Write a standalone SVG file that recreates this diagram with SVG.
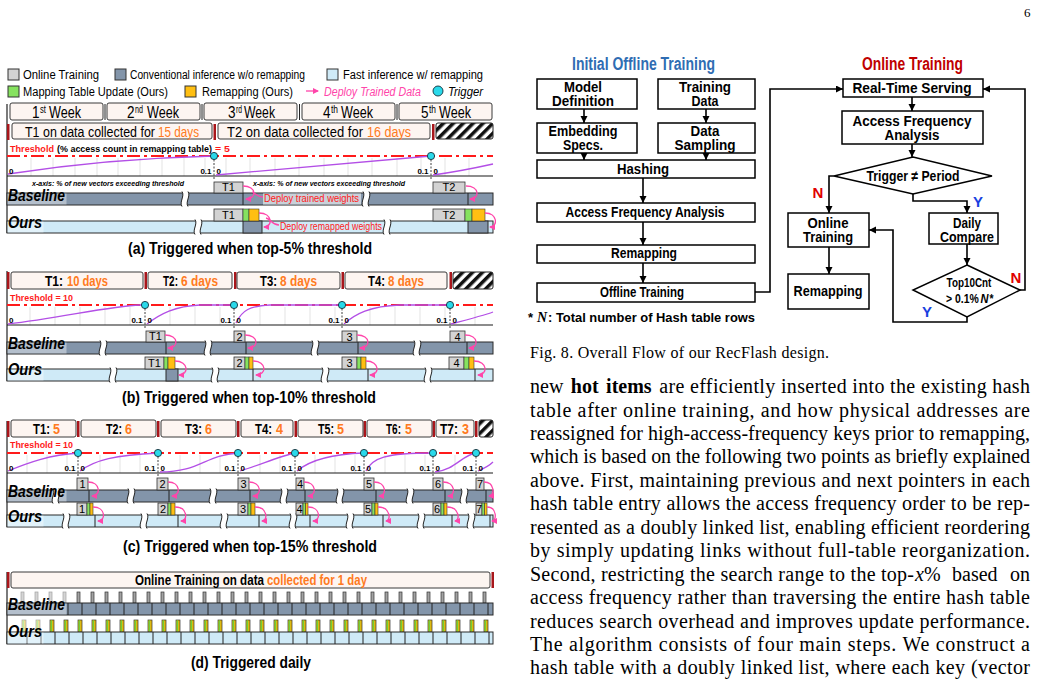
<svg xmlns="http://www.w3.org/2000/svg" width="1039" height="687" viewBox="0 0 1039 687">
<style>
.s{font-family:"Liberation Sans",Arial,sans-serif}
.b{font-weight:bold}
.i{font-style:italic}
.tm{font-family:"Liberation Serif","Times New Roman",serif}
.or{fill:#ff7a21}
.rd{fill:#ff1a1a}
.bx{fill:#fdf5f1;stroke:#3a3a3a;stroke-width:1}
.rb{fill:#a8161b}
.thl{stroke:#ff1a1a;stroke-width:2;stroke-dasharray:13 4 3 4;fill:none}
.gd{stroke:#dcdcdc;stroke-width:0.8;fill:none}
.ax{stroke:#1a1a1a;stroke-width:1.2}
.cv{stroke:#b34fe6;stroke-width:1.3;fill:none}
.dt{fill:#2ad9ea;stroke:#13303a;stroke-width:0.9}
.vd{stroke:#111;stroke-width:0.8;stroke-dasharray:2 1.5;fill:none}
.cb{fill:#8395aa;stroke:#2a2a2a;stroke-width:1}
.fb{fill:#cfeaf7;stroke:#2a2a2a;stroke-width:1}
.ot{fill:#d3d3d3;stroke:#333;stroke-width:0.8}
.gr{fill:#86e25f;stroke:#333;stroke-width:0.6}
.og{fill:#ffbf12;stroke:#333;stroke-width:0.6}
.pk{stroke:#ff45aa;stroke-width:1.3;fill:none;marker-end:url(#pa)}
.pl{stroke:#ff45aa;stroke-width:1.3;fill:none}
.fr{stroke:#222;stroke-width:1.2;fill:none}
.dv{stroke:#222;stroke-width:1;fill:none}
.lb{fill:#fff;opacity:0.4}
.nb{fill:#fff;stroke:#000;stroke-width:1.5}
.fa{stroke:#000;stroke-width:1.6;fill:none;marker-end:url(#ba)}
.ft{font-family:"Liberation Sans",Arial,sans-serif;font-size:15px;font-weight:bold;text-anchor:middle}
.tr{font-family:"Liberation Sans",Arial,sans-serif;font-size:15px}
.lg{font-family:"Liberation Sans",Arial,sans-serif;font-size:13.5px}
.wk{font-family:"Liberation Sans",Arial,sans-serif;font-size:16px}
.sp{font-family:"Liberation Sans",Arial,sans-serif;font-size:10px}
.tt{font-family:"Liberation Sans",Arial,sans-serif;font-size:9.5px;font-weight:bold}
.al{font-family:"Liberation Sans",Arial,sans-serif;font-size:8px;font-weight:bold}
.rl{font-family:"Liberation Sans",Arial,sans-serif;font-size:16px;font-weight:bold;font-style:italic}
.cap{font-family:"Liberation Sans",Arial,sans-serif;font-size:16px;font-weight:bold;text-anchor:middle}
.bn{font-family:"Liberation Sans",Arial,sans-serif;font-size:11px;text-anchor:middle}
.bt{font-family:"Liberation Serif","Times New Roman",serif;font-size:20px}
</style>
<defs>
<marker id="ba" markerWidth="8" markerHeight="8" refX="7" refY="3.5" orient="auto" markerUnits="userSpaceOnUse"><path d="M0,0 L7,3.5 L0,7 Z" fill="#000"/></marker>
<marker id="pa" markerWidth="6" markerHeight="6" refX="5" refY="3" orient="auto" markerUnits="userSpaceOnUse"><path d="M0,0 L6,3 L0,6 Z" fill="#ff45aa"/></marker>
<pattern id="ht" width="7" height="7" patternUnits="userSpaceOnUse" patternTransform="rotate(45)"><rect width="3.5" height="7" fill="#111"/></pattern>
<g id="bk"><path d="M0,-1.5 C3,3 -3,9 0,13.5 L6,13.5 C3,9 9,3 6,-1.5 Z" fill="#fff"/><path d="M0,-1.5 C3,3 -3,9 0,13.5 M6,-1.5 C9,3 3,9 6,13.5" fill="none" stroke="#222" stroke-width="1"/></g>
<g id="tb"><rect width="3" height="11" fill="#a3a3a3" stroke="#333" stroke-width="0.7"/></g>
<g id="to"><rect width="4" height="12" fill="#e9b90c" stroke="#333" stroke-width="0.7"/><rect x="0.6" y="0.4" width="1.5" height="11.2" fill="#6fcf3a"/></g>
</defs>
<rect width="1039" height="687" fill="#fff"/>
<text class="tm" x="1024" y="17" font-size="13">6</text>

<!-- Legend -->
<g id="legend">
<rect x="8" y="69" width="11" height="11" fill="#d3d3d3" stroke="#333"/>
<text class="lg" transform="translate(23,79) scale(.8,1)" textLength="95" lengthAdjust="spacingAndGlyphs">Online Training</text>
<rect x="115" y="69" width="11" height="11" fill="#8395aa" stroke="#333"/>
<text class="lg" transform="translate(130,79) scale(.8,1)" textLength="218.75" lengthAdjust="spacingAndGlyphs">Conventional inference w/o remapping</text>
<rect x="327" y="69" width="11" height="11" fill="#cfeaf7" stroke="#333"/>
<text class="lg" transform="translate(343,79) scale(.8,1)" textLength="175" lengthAdjust="spacingAndGlyphs">Fast inference w/ remapping</text>
<rect x="8" y="86" width="11" height="11" fill="#86e25f" stroke="#333"/>
<text class="lg" transform="translate(23,96) scale(.8,1)" textLength="181.25" lengthAdjust="spacingAndGlyphs">Mapping Table Update (Ours)</text>
<rect x="185" y="86" width="11" height="11" fill="#ffbf12" stroke="#333"/>
<text class="lg" transform="translate(202,96) scale(.8,1)" textLength="113.75" lengthAdjust="spacingAndGlyphs">Remapping (Ours)</text>
<line x1="306" y1="91" x2="318" y2="91" class="pk"/>
<text class="lg i" transform="translate(324,96) scale(.8,1)" fill="#ff45aa" textLength="121.25" lengthAdjust="spacingAndGlyphs">Deploy Trained Data</text>
<circle cx="438" cy="91" r="5" class="dt"/>
<text class="lg i" transform="translate(448,96) scale(.8,1)" textLength="43.75" lengthAdjust="spacingAndGlyphs">Trigger</text>
</g>

<!-- Panel (a) -->
<g id="panel-a">
<line x1="7" y1="104" x2="7" y2="233" class="fr"/>
<rect class="bx" x="10" y="103" width="93" height="17" rx="2"/>
<rect class="bx" x="107" y="103" width="93" height="17" rx="2"/>
<rect class="bx" x="204" y="103" width="93" height="17" rx="2"/>
<rect class="bx" x="302" y="103" width="93" height="17" rx="2"/>
<rect class="bx" x="399" y="103" width="93" height="17" rx="2"/>
<path class="dv" d="M105,104V120M202,104V120M299.5,104V120M397,104V120"/>
<text class="wk" transform="translate(32,118) scale(.8,1)" textLength="9.4" lengthAdjust="spacingAndGlyphs">1</text><text class="sp" transform="translate(40,113) scale(.8,1)" textLength="7.5" lengthAdjust="spacingAndGlyphs">st</text><text class="wk" transform="translate(49,118) scale(.8,1)" textLength="40" lengthAdjust="spacingAndGlyphs">Week</text>
<text class="wk" transform="translate(127,118) scale(.8,1)" textLength="9.4" lengthAdjust="spacingAndGlyphs">2</text><text class="sp" transform="translate(135,113) scale(.8,1)" textLength="10" lengthAdjust="spacingAndGlyphs">nd</text><text class="wk" transform="translate(147,118) scale(.8,1)" textLength="40" lengthAdjust="spacingAndGlyphs">Week</text>
<text class="wk" transform="translate(228,118) scale(.8,1)" textLength="9.4" lengthAdjust="spacingAndGlyphs">3</text><text class="sp" transform="translate(236,113) scale(.8,1)" textLength="7.5" lengthAdjust="spacingAndGlyphs">rd</text><text class="wk" transform="translate(244,118) scale(.8,1)" textLength="38.75" lengthAdjust="spacingAndGlyphs">Week</text>
<text class="wk" transform="translate(323,118) scale(.8,1)" textLength="9.4" lengthAdjust="spacingAndGlyphs">4</text><text class="sp" transform="translate(331,113) scale(.8,1)" textLength="8.75" lengthAdjust="spacingAndGlyphs">th</text><text class="wk" transform="translate(341,118) scale(.8,1)" textLength="40" lengthAdjust="spacingAndGlyphs">Week</text>
<text class="wk" transform="translate(421,118) scale(.8,1)" textLength="9.4" lengthAdjust="spacingAndGlyphs">5</text><text class="sp" transform="translate(429,113) scale(.8,1)" textLength="8.75" lengthAdjust="spacingAndGlyphs">th</text><text class="wk" transform="translate(439,118) scale(.8,1)" textLength="40" lengthAdjust="spacingAndGlyphs">Week</text>

<rect class="rb" x="7" y="124" width="2.5" height="16"/>
<rect class="bx" x="12" y="123" width="200" height="16" rx="2"/>
<rect class="rb" x="213.5" y="124" width="2.5" height="16"/>
<rect class="bx" x="218" y="123" width="212" height="16" rx="2"/>
<rect class="rb" x="432" y="124" width="2.5" height="16"/>
<rect x="436" y="123" width="57" height="16" rx="2" fill="url(#ht)" stroke="#222"/>
<text class="tr" transform="translate(25,137) scale(.8,1)" textLength="162.5" lengthAdjust="spacingAndGlyphs">T1 on data collected for</text>
<text class="tr or" transform="translate(158,137) scale(.8,1)" textLength="51.25" lengthAdjust="spacingAndGlyphs">15 days</text>
<text class="tr" transform="translate(227,137) scale(.8,1)" textLength="170" lengthAdjust="spacingAndGlyphs">T2 on data collected for</text>
<text class="tr or" transform="translate(367,137) scale(.8,1)" textLength="55" lengthAdjust="spacingAndGlyphs">16 days</text>

<text class="tt rd" transform="translate(10,152) scale(.8,1)" textLength="55" lengthAdjust="spacingAndGlyphs">Threshold</text>
<text class="tt" transform="translate(57,152) scale(.8,1)" textLength="193.75" lengthAdjust="spacingAndGlyphs">(% access count in remapping table)</text>
<text class="tt rd" transform="translate(215,152) scale(.8,1)" textLength="18.75" lengthAdjust="spacingAndGlyphs">= 5</text>

<path class="gd" d="M31,158V176M53,158V176M75,158V176M97,158V176M118,158V176M140,158V176M162,158V176M184,158V176M205,158V176M226,158V176M250,158V176M275,158V176M299,158V176M324,158V176M348,158V176M372,158V176M397,158V176M421,158V176M445,158V176M469,158V176"/>
<line class="thl" x1="7" y1="156" x2="493" y2="156"/>
<line class="ax" x1="7" y1="176" x2="493" y2="176"/>
<path class="cv" d="M8,174 C60,166 130,158 214,156"/>
<path class="cv" d="M216,175 C300,167 380,160 431,156"/>
<path class="cv" d="M433,175 C455,172 475,168 493,164"/>
<path class="vd" d="M214,156V179M431,156V179"/>
<circle cx="214" cy="156" r="3.6" class="dt"/>
<circle cx="431" cy="156" r="3.6" class="dt"/>
<text class="al" x="9" y="174">0</text>
<text class="al" x="211.5" y="174" text-anchor="end">0.1</text>
<text class="al" x="216.5" y="174">0</text>
<text class="al" x="428.5" y="174" text-anchor="end">0.1</text>
<text class="al" x="433.5" y="174">0</text>
<text class="s b i" x="32" y="186" font-size="7.5" textLength="152" lengthAdjust="spacingAndGlyphs">x-axis: % of new vectors  exceeding threshold</text>
<text class="s b i" x="253" y="186" font-size="7.5" textLength="152" lengthAdjust="spacingAndGlyphs">x-axis: % of new vectors  exceeding threshold</text>

<rect class="cb" x="7" y="193" width="486" height="12"/>
<rect class="lb" x="7.5" y="193.5" width="59" height="11"/>
<rect x="263" y="193.5" width="98" height="11" fill="#c9d1d9"/>
<path class="dv" d="M243,193V205M468,193V205"/>
<use href="#bk" x="182" y="193"/>
<use href="#bk" x="363" y="193"/>
<rect class="ot" x="214" y="182" width="29" height="11"/>
<text class="bn" x="228.5" y="191">T1</text>
<rect class="ot" x="433" y="182" width="32" height="11"/>
<text class="bn" x="449" y="191">T2</text>
<text class="rl" x="8" y="201" textLength="57" lengthAdjust="spacingAndGlyphs">Baseline</text>
<text class="s rd" x="264" y="202" font-size="10.5" textLength="95" lengthAdjust="spacingAndGlyphs">Deploy trained weights</text>
<path class="pk" d="M243,186 C257,186 257,199 246,199"/>
<path class="pl" d="M263,197 C257,197 255,193 252,192"/>
<path class="pk" d="M466,186 C480,186 480,199 470,199"/>

<rect class="fb" x="7" y="221" width="486" height="12"/>
<rect class="cb" x="243" y="221" width="19" height="12"/>
<rect class="cb" x="468" y="221" width="20" height="12"/>
<rect class="lb" x="7.5" y="221.5" width="36" height="11"/>
<use href="#bk" x="195" y="221"/>
<use href="#bk" x="384" y="221"/>
<rect class="ot" x="214" y="209" width="29" height="12"/>
<rect class="gr" x="243" y="209" width="6" height="12"/>
<rect class="og" x="249" y="209" width="10" height="12"/>
<text class="bn" x="228.5" y="219">T1</text>
<rect class="ot" x="433" y="209" width="32" height="12"/>
<rect class="gr" x="465" y="209" width="7" height="12"/>
<rect class="og" x="472" y="209" width="13" height="12"/>
<text class="bn" x="449" y="219">T2</text>
<text class="rl" x="8" y="228" textLength="34" lengthAdjust="spacingAndGlyphs">Ours</text>
<text class="s rd" x="280" y="230" font-size="10.5" textLength="102" lengthAdjust="spacingAndGlyphs">Deploy remapped weights</text>
<path class="pk" d="M259,213 C273,213 273,227 264,227"/>
<path class="pl" d="M279,225 C272,225 271,219 266,218"/>
<path class="pk" d="M485,213 C498,213 498,227 490,227"/>
<text class="cap" x="250" y="254" textLength="244" lengthAdjust="spacingAndGlyphs">(a) Triggered when top-5% threshold</text>
</g>

<!-- Panel (b) -->
<g id="panel-b">
<line x1="7" y1="271" x2="7" y2="381" class="fr"/>
<rect class="rb" x="7" y="272" width="2.5" height="17"/>
<rect class="rb" x="144.5" y="272" width="2.5" height="17"/>
<rect class="rb" x="234" y="272" width="2.5" height="17"/>
<rect class="rb" x="341.5" y="272" width="2.5" height="17"/>
<rect class="rb" x="449.5" y="272" width="2.5" height="17"/>
<rect class="bx" x="11" y="272" width="132" height="17" rx="2"/>
<rect class="bx" x="148" y="272" width="84" height="17" rx="2"/>
<rect class="bx" x="237" y="272" width="103" height="17" rx="2"/>
<rect class="bx" x="345" y="272" width="102" height="17" rx="2"/>
<rect x="453" y="272" width="40" height="17" rx="2" fill="url(#ht)" stroke="#222"/>
<text class="tr b" transform="translate(45,286) scale(.8,1)" textLength="22.5" lengthAdjust="spacingAndGlyphs">T1:</text>
<text class="tr b or" transform="translate(67,286) scale(.8,1)" textLength="51.25" lengthAdjust="spacingAndGlyphs">10 days</text>
<text class="tr b" transform="translate(163,286) scale(.8,1)" textLength="18.75" lengthAdjust="spacingAndGlyphs">T2:</text>
<text class="tr b or" transform="translate(181,286) scale(.8,1)" textLength="46.25" lengthAdjust="spacingAndGlyphs">6 days</text>
<text class="tr b" transform="translate(260,286) scale(.8,1)" textLength="21.25" lengthAdjust="spacingAndGlyphs">T3:</text>
<text class="tr b or" transform="translate(280,286) scale(.8,1)" textLength="46.25" lengthAdjust="spacingAndGlyphs">8 days</text>
<text class="tr b" transform="translate(368,286) scale(.8,1)" textLength="21.25" lengthAdjust="spacingAndGlyphs">T4:</text>
<text class="tr b or" transform="translate(388,286) scale(.8,1)" textLength="45" lengthAdjust="spacingAndGlyphs">8 days</text>
<text class="tt rd" x="10" y="301" textLength="63" lengthAdjust="spacingAndGlyphs">Threshold = 10</text>
<path class="gd" d="M30,307V325M55,307V325M80,307V325M105,307V325M130,307V325M170,307V325M195,307V325M220,307V325M260,307V325M285,307V325M310,307V325M335,307V325M370,307V325M395,307V325M420,307V325M445,307V325M475,307V325"/>
<line class="thl" x1="7" y1="305" x2="493" y2="305"/>
<line class="ax" x1="7" y1="325" x2="493" y2="325"/>
<path class="cv" d="M8,324 C60,318 110,306 140,305 L145,305"/>
<path class="cv" d="M147,324 C160,314 175,306 200,305 L234,305"/>
<path class="cv" d="M236,323 C242,310 250,306 270,305 L342,305"/>
<path class="cv" d="M344,324 C355,314 370,306 400,305 L450,305"/>
<path class="cv" d="M451,324 C470,319 485,315 493,312"/>
<path class="vd" d="M145,305V328M234,305V328M342,305V328M450,305V328"/>
<circle cx="145" cy="305" r="3.6" class="dt"/>
<circle cx="234" cy="305" r="3.6" class="dt"/>
<circle cx="342" cy="305" r="3.6" class="dt"/>
<circle cx="450" cy="305" r="3.6" class="dt"/>
<text class="al" x="9" y="323">0</text>
<text class="al" x="142.5" y="323" text-anchor="end">0.1</text><text class="al" x="147.5" y="323">0</text>
<text class="al" x="231.5" y="323" text-anchor="end">0.1</text><text class="al" x="236.5" y="323">0</text>
<text class="al" x="339.5" y="323" text-anchor="end">0.1</text><text class="al" x="344.5" y="323">0</text>
<text class="al" x="447.5" y="323" text-anchor="end">0.1</text><text class="al" x="452.5" y="323">0</text>

<rect class="cb" x="7" y="342" width="486" height="12"/>
<rect class="lb" x="7.5" y="342.5" width="59" height="11"/>
<path class="dv" d="M166,342V354M246,342V354M358,342V354M467,342V354"/>
<use href="#bk" x="100" y="342"/>
<use href="#bk" x="205" y="342"/>
<use href="#bk" x="312" y="342"/>
<use href="#bk" x="414" y="342"/>
<rect class="ot" x="146" y="331" width="19" height="11"/><text class="bn" x="155.5" y="340">T1</text>
<rect class="ot" x="234" y="331" width="11" height="11"/><text class="bn" x="239.5" y="340.5" font-size="12">2</text>
<rect class="ot" x="342" y="331" width="15" height="11"/><text class="bn" x="349.5" y="340.5" font-size="12">3</text>
<rect class="ot" x="450" y="331" width="15" height="11"/><text class="bn" x="457.5" y="340.5" font-size="12">4</text>
<text class="rl" x="8" y="349" textLength="57" lengthAdjust="spacingAndGlyphs">Baseline</text>
<path class="pk" d="M165,335 C179,335 179,348 168,348"/>
<path class="pk" d="M245,335 C259,335 259,348 248,348"/>
<path class="pk" d="M357,335 C371,335 371,348 360,348"/>
<path class="pk" d="M465,335 C479,335 479,348 469,348"/>

<rect class="fb" x="7" y="369" width="486" height="12"/>
<rect class="cb" x="166" y="369" width="12" height="12"/>
<rect class="lb" x="7.5" y="369.5" width="36" height="11"/>
<path class="dv" d="M253,369V381M368,369V381M475,369V381"/>
<use href="#bk" x="110" y="369"/>
<use href="#bk" x="212" y="369"/>
<use href="#bk" x="322" y="369"/>
<use href="#bk" x="425" y="369"/>
<rect class="ot" x="145" y="357" width="19" height="12"/><rect class="gr" x="164" y="357" width="4" height="12"/><rect class="og" x="168" y="357" width="7" height="12"/><text class="bn" x="154.5" y="366.5">T1</text>
<rect class="ot" x="234" y="357" width="11" height="12"/><rect class="gr" x="245" y="357" width="4" height="12"/><rect class="og" x="249" y="357" width="4" height="12"/><text class="bn" x="239.5" y="367" font-size="12">2</text>
<rect class="ot" x="342" y="357" width="15" height="12"/><rect class="gr" x="357" y="357" width="4" height="12"/><rect class="og" x="361" y="357" width="5" height="12"/><text class="bn" x="349.5" y="367" font-size="12">3</text>
<rect class="ot" x="449" y="357" width="15" height="12"/><rect class="gr" x="464" y="357" width="5" height="12"/><rect class="og" x="469" y="357" width="5" height="12"/><text class="bn" x="456.5" y="367" font-size="12">4</text>
<text class="rl" x="8" y="375" textLength="34" lengthAdjust="spacingAndGlyphs">Ours</text>
<path class="pk" d="M175,361 C189,361 189,375 179,375"/>
<path class="pk" d="M253,361 C267,361 267,375 256,375"/>
<path class="pk" d="M366,361 C380,361 380,375 370,375"/>
<path class="pk" d="M474,361 C488,361 488,375 478,375"/>
<text class="cap" x="249" y="403" textLength="254" lengthAdjust="spacingAndGlyphs">(b) Triggered when top-10% threshold</text>
</g>

<!-- Panel (c) -->
<g id="panel-c">
<line x1="7" y1="421" x2="7" y2="527" class="fr"/>
<rect class="rb" x="7" y="421" width="2.5" height="16"/>
<rect class="rb" x="77" y="421" width="2.5" height="16"/>
<rect class="rb" x="157" y="421" width="2.5" height="16"/>
<rect class="rb" x="237" y="421" width="2.5" height="16"/>
<rect class="rb" x="294.5" y="421" width="2.5" height="16"/>
<rect class="rb" x="363.5" y="421" width="2.5" height="16"/>
<rect class="rb" x="432.5" y="421" width="2.5" height="16"/>
<rect class="rb" x="475" y="421" width="2.5" height="16"/>
<rect class="bx" x="11" y="420" width="65" height="17" rx="2"/>
<rect class="bx" x="81" y="420" width="75" height="17" rx="2"/>
<rect class="bx" x="161" y="420" width="75" height="17" rx="2"/>
<rect class="bx" x="241" y="420" width="52" height="17" rx="2"/>
<rect class="bx" x="298" y="420" width="65" height="17" rx="2"/>
<rect class="bx" x="367" y="420" width="65" height="17" rx="2"/>
<rect class="bx" x="436" y="420" width="38" height="17" rx="2"/>
<rect x="479" y="420" width="14" height="17" rx="2" fill="url(#ht)" stroke="#222"/>
<text class="tr b" transform="translate(33,434) scale(.8,1)" textLength="21.25" lengthAdjust="spacingAndGlyphs">T1:</text><text class="tr b or" transform="translate(53,434) scale(.8,1)" textLength="8.75" lengthAdjust="spacingAndGlyphs">5</text>
<text class="tr b" transform="translate(106,434) scale(.8,1)" textLength="20" lengthAdjust="spacingAndGlyphs">T2:</text><text class="tr b or" transform="translate(125,434) scale(.8,1)" textLength="8.75" lengthAdjust="spacingAndGlyphs">6</text>
<text class="tr b" transform="translate(185,434) scale(.8,1)" textLength="21.25" lengthAdjust="spacingAndGlyphs">T3:</text><text class="tr b or" transform="translate(205,434) scale(.8,1)" textLength="8.75" lengthAdjust="spacingAndGlyphs">6</text>
<text class="tr b" transform="translate(255,434) scale(.8,1)" textLength="21.25" lengthAdjust="spacingAndGlyphs">T4:</text><text class="tr b or" transform="translate(276,434) scale(.8,1)" textLength="8.75" lengthAdjust="spacingAndGlyphs">4</text>
<text class="tr b" transform="translate(318,434) scale(.8,1)" textLength="20" lengthAdjust="spacingAndGlyphs">T5:</text><text class="tr b or" transform="translate(337,434) scale(.8,1)" textLength="8.75" lengthAdjust="spacingAndGlyphs">5</text>
<text class="tr b" transform="translate(386,434) scale(.8,1)" textLength="18.75" lengthAdjust="spacingAndGlyphs">T6:</text><text class="tr b or" transform="translate(405,434) scale(.8,1)" textLength="8.75" lengthAdjust="spacingAndGlyphs">5</text>
<text class="tr b" transform="translate(440,434) scale(.8,1)" textLength="22.5" lengthAdjust="spacingAndGlyphs">T7:</text><text class="tr b or" transform="translate(462,434) scale(.8,1)" textLength="8.75" lengthAdjust="spacingAndGlyphs">3</text>
<text class="tt rd" x="10" y="448" textLength="63" lengthAdjust="spacingAndGlyphs">Threshold = 10</text>
<path class="gd" d="M27,455V473M47,455V473M67,455V473M100,455V473M120,455V473M140,455V473M180,455V473M200,455V473M220,455V473M260,455V473M280,455V473M315,455V473M335,455V473M355,455V473M385,455V473M405,455V473M425,455V473M455,455V473"/>
<line class="thl" x1="7" y1="453" x2="493" y2="453"/>
<line class="ax" x1="7" y1="473" x2="493" y2="473"/>
<path class="cv" d="M8,471 C30,462 50,455 78,453"/>
<path class="cv" d="M80,471 C95,460 115,455 158,453"/>
<path class="cv" d="M160,472 C200,472 205,455 238,453"/>
<path class="cv" d="M240,471 C260,465 280,456 295,453"/>
<path class="cv" d="M297,471 C310,460 330,454 364,453"/>
<path class="cv" d="M366,471 C372,458 385,453 433,453"/>
<path class="cv" d="M435,472 C455,470 462,455 476,453"/>
<path class="cv" d="M478,471 C485,468 490,465 493,462"/>
<path class="vd" d="M78,453V476M158,453V476M238,453V476M295,453V476M364,453V476M433,453V476M476,453V476"/>
<circle cx="78" cy="453" r="3.6" class="dt"/>
<circle cx="158" cy="453" r="3.6" class="dt"/>
<circle cx="238" cy="453" r="3.6" class="dt"/>
<circle cx="295" cy="453" r="3.6" class="dt"/>
<circle cx="364" cy="453" r="3.6" class="dt"/>
<circle cx="433" cy="453" r="3.6" class="dt"/>
<circle cx="476" cy="453" r="3.6" class="dt"/>
<text class="al" x="9" y="471">0</text>
<text class="al" x="75.5" y="471" text-anchor="end">0.1</text><text class="al" x="80.5" y="471">0</text>
<text class="al" x="155.5" y="471" text-anchor="end">0.1</text><text class="al" x="160.5" y="471">0</text>
<text class="al" x="235.5" y="471" text-anchor="end">0.1</text><text class="al" x="240.5" y="471">0</text>
<text class="al" x="292.5" y="471" text-anchor="end">0.1</text><text class="al" x="297.5" y="471">0</text>
<text class="al" x="361.5" y="471" text-anchor="end">0.1</text><text class="al" x="366.5" y="471">0</text>
<text class="al" x="430.5" y="471" text-anchor="end">0.1</text><text class="al" x="435.5" y="471">0</text>
<text class="al" x="473.5" y="471" text-anchor="end">0.1</text><text class="al" x="478.5" y="471">0</text>

<rect class="cb" x="7" y="490" width="486" height="12"/>
<rect class="lb" x="7.5" y="490.5" width="59" height="11"/>
<path class="dv" d="M89,490V502M169,490V502M250,490V502M305,490V502M376,490V502M445,490V502M486,490V502"/>
<use href="#bk" x="53" y="490"/>
<use href="#bk" x="128" y="490"/>
<use href="#bk" x="210" y="490"/>
<use href="#bk" x="281" y="490"/>
<use href="#bk" x="337" y="490"/>
<use href="#bk" x="407" y="490"/>
<use href="#bk" x="461" y="490"/>
<rect class="ot" x="77" y="478" width="11" height="12"/><text class="bn" x="82.5" y="488" font-size="12">1</text>
<rect class="ot" x="157" y="478" width="11" height="12"/><text class="bn" x="162.5" y="488" font-size="12">2</text>
<rect class="ot" x="238" y="478" width="11" height="12"/><text class="bn" x="243.5" y="488" font-size="12">3</text>
<rect class="ot" x="296" y="478" width="8" height="12"/><text class="bn" x="300" y="488" font-size="12">4</text>
<rect class="ot" x="364" y="478" width="10" height="12"/><text class="bn" x="369" y="488" font-size="12">5</text>
<rect class="ot" x="433" y="478" width="10" height="12"/><text class="bn" x="438" y="488" font-size="12">6</text>
<rect class="ot" x="476" y="478" width="8" height="12"/><text class="bn" x="480" y="488" font-size="12">7</text>
<text class="rl" x="8" y="497" textLength="57" lengthAdjust="spacingAndGlyphs">Baseline</text>
<path class="pk" d="M88,482 C101,482 101,496 92,496"/>
<path class="pk" d="M168,482 C181,482 181,496 172,496"/>
<path class="pk" d="M249,482 C262,482 262,496 253,496"/>
<path class="pk" d="M304,482 C317,482 317,496 308,496"/>
<path class="pk" d="M374,482 C387,482 387,496 379,496"/>
<path class="pk" d="M443,482 C456,482 456,496 448,496"/>
<path class="pk" d="M484,482 C495,482 495,496 489,496"/>

<rect class="fb" x="7" y="515" width="486" height="12"/>
<rect class="lb" x="7.5" y="515.5" width="36" height="11"/>
<path class="dv" d="M95,515V527M178,515V527M259,515V527M310,515V527M383,515V527M452,515V527M490,515V527"/>
<use href="#bk" x="63" y="515"/>
<use href="#bk" x="141" y="515"/>
<use href="#bk" x="221" y="515"/>
<use href="#bk" x="290" y="515"/>
<use href="#bk" x="347" y="515"/>
<use href="#bk" x="418" y="515"/>
<use href="#bk" x="468" y="515"/>
<rect class="ot" x="77" y="503" width="10" height="12"/><rect class="gr" x="87" y="503" width="3" height="12"/><rect class="og" x="90" y="503" width="3" height="12"/><text class="bn" x="82" y="513" font-size="12">1</text>
<rect class="ot" x="158" y="503" width="10" height="12"/><rect class="gr" x="168" y="503" width="3" height="12"/><rect class="og" x="171" y="503" width="4" height="12"/><text class="bn" x="163" y="513" font-size="12">2</text>
<rect class="ot" x="238" y="503" width="10" height="12"/><rect class="gr" x="248" y="503" width="3" height="12"/><rect class="og" x="251" y="503" width="4" height="12"/><text class="bn" x="243" y="513" font-size="12">3</text>
<rect class="ot" x="296" y="503" width="7" height="12"/><rect class="gr" x="303" y="503" width="2.5" height="12"/><rect class="og" x="305.5" y="503" width="2.5" height="12"/><text class="bn" x="299.5" y="513" font-size="12">4</text>
<rect class="ot" x="364" y="503" width="8" height="12"/><rect class="gr" x="372" y="503" width="3" height="12"/><rect class="og" x="375" y="503" width="3" height="12"/><text class="bn" x="368" y="513" font-size="12">5</text>
<rect class="ot" x="433" y="503" width="8" height="12"/><rect class="gr" x="441" y="503" width="3" height="12"/><rect class="og" x="444" y="503" width="3" height="12"/><text class="bn" x="437" y="513" font-size="12">6</text>
<rect class="ot" x="476" y="503" width="6" height="12"/><rect class="gr" x="482" y="503" width="2.5" height="12"/><rect class="og" x="484.5" y="503" width="2.5" height="12"/><text class="bn" x="479" y="513" font-size="12">7</text>
<text class="rl" x="8" y="522" textLength="34" lengthAdjust="spacingAndGlyphs">Ours</text>
<path class="pk" d="M93,507 C106,507 106,521 98,521"/>
<path class="pk" d="M175,507 C188,507 188,521 181,521"/>
<path class="pk" d="M255,507 C268,507 268,521 262,521"/>
<path class="pk" d="M308,507 C321,507 321,521 313,521"/>
<path class="pk" d="M378,507 C391,507 391,521 386,521"/>
<path class="pk" d="M447,507 C460,507 460,521 455,521"/>
<path class="pk" d="M487,507 C497,507 497,521 492,521"/>
<text class="cap" x="250" y="552" textLength="254" lengthAdjust="spacingAndGlyphs">(c) Triggered when top-15% threshold</text>
</g>

<!-- Panel (d) -->
<g id="panel-d">
<line x1="7" y1="572" x2="7" y2="644" class="fr"/>
<rect class="rb" x="7" y="572" width="2.5" height="16"/>
<rect class="bx" x="11" y="572" width="479" height="16" rx="2"/>
<rect class="rb" x="491.5" y="572" width="2.5" height="16"/>
<text class="tr b" transform="translate(135,585) scale(.8,1)" textLength="161.25" lengthAdjust="spacingAndGlyphs">Online Training on data</text>
<text class="tr b or" transform="translate(267,585) scale(.8,1)" textLength="125" lengthAdjust="spacingAndGlyphs">collected for 1 day</text>
<g opacity="0.45"><use href="#tb" x="21" y="592"/><use href="#tb" x="35" y="592"/><use href="#tb" x="49" y="592"/><use href="#tb" x="63" y="592"/></g>
<use href="#tb" x="77" y="592"/><use href="#tb" x="91" y="592"/><use href="#tb" x="105" y="592"/><use href="#tb" x="119" y="592"/><use href="#tb" x="133" y="592"/><use href="#tb" x="147" y="592"/><use href="#tb" x="161" y="592"/><use href="#tb" x="175" y="592"/><use href="#tb" x="189" y="592"/><use href="#tb" x="203" y="592"/><use href="#tb" x="217" y="592"/><use href="#tb" x="231" y="592"/><use href="#tb" x="245" y="592"/><use href="#tb" x="259" y="592"/><use href="#tb" x="273" y="592"/><use href="#tb" x="287" y="592"/><use href="#tb" x="301" y="592"/><use href="#tb" x="315" y="592"/><use href="#tb" x="329" y="592"/><use href="#tb" x="343" y="592"/><use href="#tb" x="357" y="592"/><use href="#tb" x="371" y="592"/><use href="#tb" x="385" y="592"/><use href="#tb" x="399" y="592"/><use href="#tb" x="413" y="592"/><use href="#tb" x="427" y="592"/><use href="#tb" x="441" y="592"/><use href="#tb" x="455" y="592"/><use href="#tb" x="469" y="592"/><use href="#tb" x="483" y="592"/>
<rect class="cb" x="7" y="603" width="486" height="12"/>
<path class="dv" d="M68,603V615M82,603V615M96,603V615M110,603V615M124,603V615M138,603V615M152,603V615M166,603V615M180,603V615M194,603V615M208,603V615M222,603V615M236,603V615M250,603V615M264,603V615M278,603V615M292,603V615M306,603V615M320,603V615M334,603V615M348,603V615M362,603V615M376,603V615M390,603V615M404,603V615M418,603V615M432,603V615M446,603V615M460,603V615M474,603V615M488,603V615"/>
<rect class="lb" x="7.5" y="603.5" width="59" height="11"/>
<text class="rl" x="8" y="610" textLength="57" lengthAdjust="spacingAndGlyphs">Baseline</text>

<g opacity="0.45"><use href="#to" x="22" y="620"/><use href="#to" x="36" y="620"/></g>
<use href="#to" x="50" y="620"/><use href="#to" x="64" y="620"/><use href="#to" x="78" y="620"/><use href="#to" x="92" y="620"/><use href="#to" x="106" y="620"/><use href="#to" x="120" y="620"/><use href="#to" x="134" y="620"/><use href="#to" x="148" y="620"/><use href="#to" x="162" y="620"/><use href="#to" x="176" y="620"/><use href="#to" x="190" y="620"/><use href="#to" x="204" y="620"/><use href="#to" x="218" y="620"/><use href="#to" x="232" y="620"/><use href="#to" x="246" y="620"/><use href="#to" x="260" y="620"/><use href="#to" x="274" y="620"/><use href="#to" x="288" y="620"/><use href="#to" x="302" y="620"/><use href="#to" x="316" y="620"/><use href="#to" x="330" y="620"/><use href="#to" x="344" y="620"/><use href="#to" x="358" y="620"/><use href="#to" x="372" y="620"/><use href="#to" x="386" y="620"/><use href="#to" x="400" y="620"/><use href="#to" x="414" y="620"/><use href="#to" x="428" y="620"/><use href="#to" x="442" y="620"/><use href="#to" x="456" y="620"/><use href="#to" x="470" y="620"/><use href="#to" x="484" y="620"/>
<rect class="fb" x="7" y="632" width="486" height="12"/>
<path class="dv" d="M27,632V644M41,632V644M55,632V644M69,632V644M83,632V644M97,632V644M111,632V644M125,632V644M139,632V644M153,632V644M167,632V644M181,632V644M195,632V644M209,632V644M223,632V644M237,632V644M251,632V644M265,632V644M279,632V644M293,632V644M307,632V644M321,632V644M335,632V644M349,632V644M363,632V644M377,632V644M391,632V644M405,632V644M419,632V644M433,632V644M447,632V644M461,632V644M475,632V644M489,632V644"/>
<rect class="lb" x="7.5" y="632.5" width="36" height="11"/>
<text class="rl" x="8" y="637" textLength="34" lengthAdjust="spacingAndGlyphs">Ours</text>
<text class="cap" x="251" y="668" textLength="120" lengthAdjust="spacingAndGlyphs">(d) Triggered daily</text>
</g>

<!-- Flowchart titles -->
<text class="s b" x="643.5" y="70" font-size="18" fill="#2f6db3" text-anchor="middle" textLength="143" lengthAdjust="spacingAndGlyphs">Initial Offline Training</text>
<text class="s b" x="912.5" y="70" font-size="18" fill="#c00000" text-anchor="middle" textLength="101" lengthAdjust="spacingAndGlyphs">Online Training</text>

<g id="connectors">
<path class="fa" d="M584,109 L584,123"/>
<path class="fa" d="M706,109 L706,123"/>
<path class="fa" d="M584,153 L584,160"/>
<path class="fa" d="M706,153 L706,160"/>
<path class="fa" d="M643,178 L643,203"/>
<path class="fa" d="M643,222 L643,245"/>
<path class="fa" d="M643,263 L643,283"/>
<path class="fa" d="M755,292 L770,292 L770,89 L843,89"/>
<path class="fa" d="M912,97 L912,111"/>
<path class="fa" d="M912,144 L912,157"/>
<path class="fa" d="M834,176 L829,176 L829,213"/>
<path class="fa" d="M913,194 L913,201 L967,201 L967,213"/>
<path class="fa" d="M829,247 L829,274"/>
<path class="fa" d="M967,244 L967,265"/>
<path class="fa" d="M1020,290 L1025,290 L1025,89 L983,89"/>
<path class="fa" d="M967,317 L967,322 L893,322 L893,230 L869,230"/>
</g>

<g id="n-model"><rect class="nb" x="537" y="79" width="100" height="30"/><text class="ft" x="583" y="92" textLength="38" lengthAdjust="spacingAndGlyphs">Model</text><text class="ft" x="583" y="106" textLength="62" lengthAdjust="spacingAndGlyphs">Definition</text></g>
<g id="n-train"><rect class="nb" x="658" y="79" width="97" height="30"/><text class="ft" x="705" y="92" textLength="52" lengthAdjust="spacingAndGlyphs">Training</text><text class="ft" x="705" y="106" textLength="27" lengthAdjust="spacingAndGlyphs">Data</text></g>
<g id="n-embed"><rect class="nb" x="537" y="123" width="100" height="30"/><text class="ft" x="583" y="136" textLength="69" lengthAdjust="spacingAndGlyphs">Embedding</text><text class="ft" x="583" y="150" textLength="40" lengthAdjust="spacingAndGlyphs">Specs.</text></g>
<g id="n-samp"><rect class="nb" x="658" y="123" width="97" height="30"/><text class="ft" x="705" y="136" textLength="29" lengthAdjust="spacingAndGlyphs">Data</text><text class="ft" x="705" y="150" textLength="61" lengthAdjust="spacingAndGlyphs">Sampling</text></g>
<g id="n-hash"><rect class="nb" x="537" y="160" width="218" height="18"/><text class="ft" x="643" y="174" textLength="52" lengthAdjust="spacingAndGlyphs">Hashing</text></g>
<g id="n-afa"><rect class="nb" x="537" y="203" width="218" height="19"/><text class="ft" x="645" y="217" textLength="159" lengthAdjust="spacingAndGlyphs">Access Frequency Analysis</text></g>
<g id="n-remap"><rect class="nb" x="537" y="245" width="218" height="18"/><text class="ft" x="644" y="258" textLength="66" lengthAdjust="spacingAndGlyphs">Remapping</text></g>
<g id="n-offline"><rect class="nb" x="537" y="283" width="218" height="19"/><text class="ft" x="642" y="297" textLength="84" lengthAdjust="spacingAndGlyphs">Offline Training</text></g>
<g id="note"><text class="s b" x="528" y="322" font-size="13">*</text><text class="tm b i" x="537" y="322" font-size="14">N</text><text class="s b" x="548" y="322" font-size="13" textLength="207" lengthAdjust="spacingAndGlyphs">:  Total number of Hash table rows</text></g>

<g id="n-rts"><rect class="nb" x="843" y="79" width="140" height="18"/><text class="ft" x="912" y="93" textLength="119" lengthAdjust="spacingAndGlyphs">Real-Time Serving</text></g>
<g id="n-afa2"><rect class="nb" x="842" y="111" width="141" height="33"/><text class="ft" x="912" y="126" textLength="119" lengthAdjust="spacingAndGlyphs">Access Frequency</text><text class="ft" x="912" y="140" textLength="55" lengthAdjust="spacingAndGlyphs">Analysis</text></g>
<g id="n-trig"><polygon class="nb" points="834,176 913,157 992,176 913,194"/><text class="ft" x="913" y="181" textLength="93" lengthAdjust="spacingAndGlyphs">Trigger ≠ Period</text></g>
<g id="n-ot"><rect class="nb" x="788" y="213" width="81" height="34"/><text class="ft" x="828" y="228" textLength="41" lengthAdjust="spacingAndGlyphs">Online</text><text class="ft" x="828" y="242" textLength="50" lengthAdjust="spacingAndGlyphs">Training</text></g>
<g id="n-remap2"><rect class="nb" x="788" y="274" width="81" height="35"/><text class="ft" x="828" y="296" textLength="69" lengthAdjust="spacingAndGlyphs">Remapping</text></g>
<g id="n-daily"><rect class="nb" x="929" y="213" width="69" height="31"/><text class="ft" x="967" y="228" textLength="28" lengthAdjust="spacingAndGlyphs">Daily</text><text class="ft" x="967" y="242" textLength="54" lengthAdjust="spacingAndGlyphs">Compare</text></g>
<g id="n-top"><polygon class="nb" points="967,265 1020,290 967,317 913,290"/>
<text class="s b" transform="translate(969,287) scale(.8,1)" style="font-size:13px" text-anchor="middle" textLength="56" lengthAdjust="spacingAndGlyphs">Top10Cnt</text>
<text class="s b" transform="translate(946,303) scale(.8,1)" style="font-size:13px" textLength="41" lengthAdjust="spacingAndGlyphs">&gt; 0.1%</text>
<text class="s b i" transform="translate(980.5,303) scale(.8,1)" style="font-size:13px" textLength="10" lengthAdjust="spacingAndGlyphs">N</text>
<text class="s b" transform="translate(989.5,303) scale(.8,1)" style="font-size:13px">*</text></g>
<text class="s b" x="818" y="198" font-size="15" fill="#e00000" text-anchor="middle">N</text>
<text class="s b" x="978" y="207" font-size="15" fill="#1a3fe0" text-anchor="middle">Y</text>
<text class="s b" x="1016" y="283" font-size="15" fill="#e00000" text-anchor="middle">N</text>
<text class="s b" x="927" y="317" font-size="15" fill="#1a3fe0" text-anchor="middle">Y</text>

<text class="tm" x="530" y="358" font-size="16" textLength="299" lengthAdjust="spacing">Fig. 8.  Overall Flow of our RecFlash design.</text>

<g id="body">
<text class="bt" x="530" y="393">new</text>
<text class="bt b" x="570.8" y="393" word-spacing="2.5">hot items</text>
<text class="bt" x="659.2" y="393" textLength="370.8" lengthAdjust="spacing">are efficiently inserted into the existing hash</text>
<text class="bt" x="530" y="416.5" textLength="500" lengthAdjust="spacing">table after online training, and how physical addresses are</text>
<text class="bt" x="530" y="440" textLength="500" lengthAdjust="spacing">reassigned for high-access-frequency keys prior to remapping,</text>
<text class="bt" x="530" y="463.4" textLength="500" lengthAdjust="spacing">which is based on the following two points as briefly explained</text>
<text class="bt" x="530" y="486.8" textLength="500" lengthAdjust="spacing">above. First, maintaining previous and next pointers in each</text>
<text class="bt" x="530" y="510.3" textLength="500" lengthAdjust="spacing">hash table entry allows the access frequency order to be rep-</text>
<text class="bt" x="530" y="533.7" textLength="500" lengthAdjust="spacing">resented as a doubly linked list, enabling efficient reordering</text>
<text class="bt" x="530" y="557.2" textLength="500" lengthAdjust="spacing">by simply updating links without full-table reorganization.</text>
<text class="bt" x="530" y="580.6" textLength="384" lengthAdjust="spacing">Second, restricting the search range to the top-</text>
<text class="bt i" x="915" y="580.6">x</text>
<text class="bt" x="924" y="580.6">%</text>
<text class="bt" x="952" y="580.6">based</text>
<text class="bt" x="1010" y="580.6">on</text>
<text class="bt" x="530" y="604" textLength="500" lengthAdjust="spacing">access frequency rather than traversing the entire hash table</text>
<text class="bt" x="530" y="627.5" textLength="500" lengthAdjust="spacing">reduces search overhead and improves update performance.</text>
<text class="bt" x="530" y="651" textLength="500" lengthAdjust="spacing">The algorithm consists of four main steps. We construct a</text>
<text class="bt" x="530" y="674.4" textLength="500" lengthAdjust="spacing">hash table with a doubly linked list, where each key (vector</text>
</g>
</svg>
